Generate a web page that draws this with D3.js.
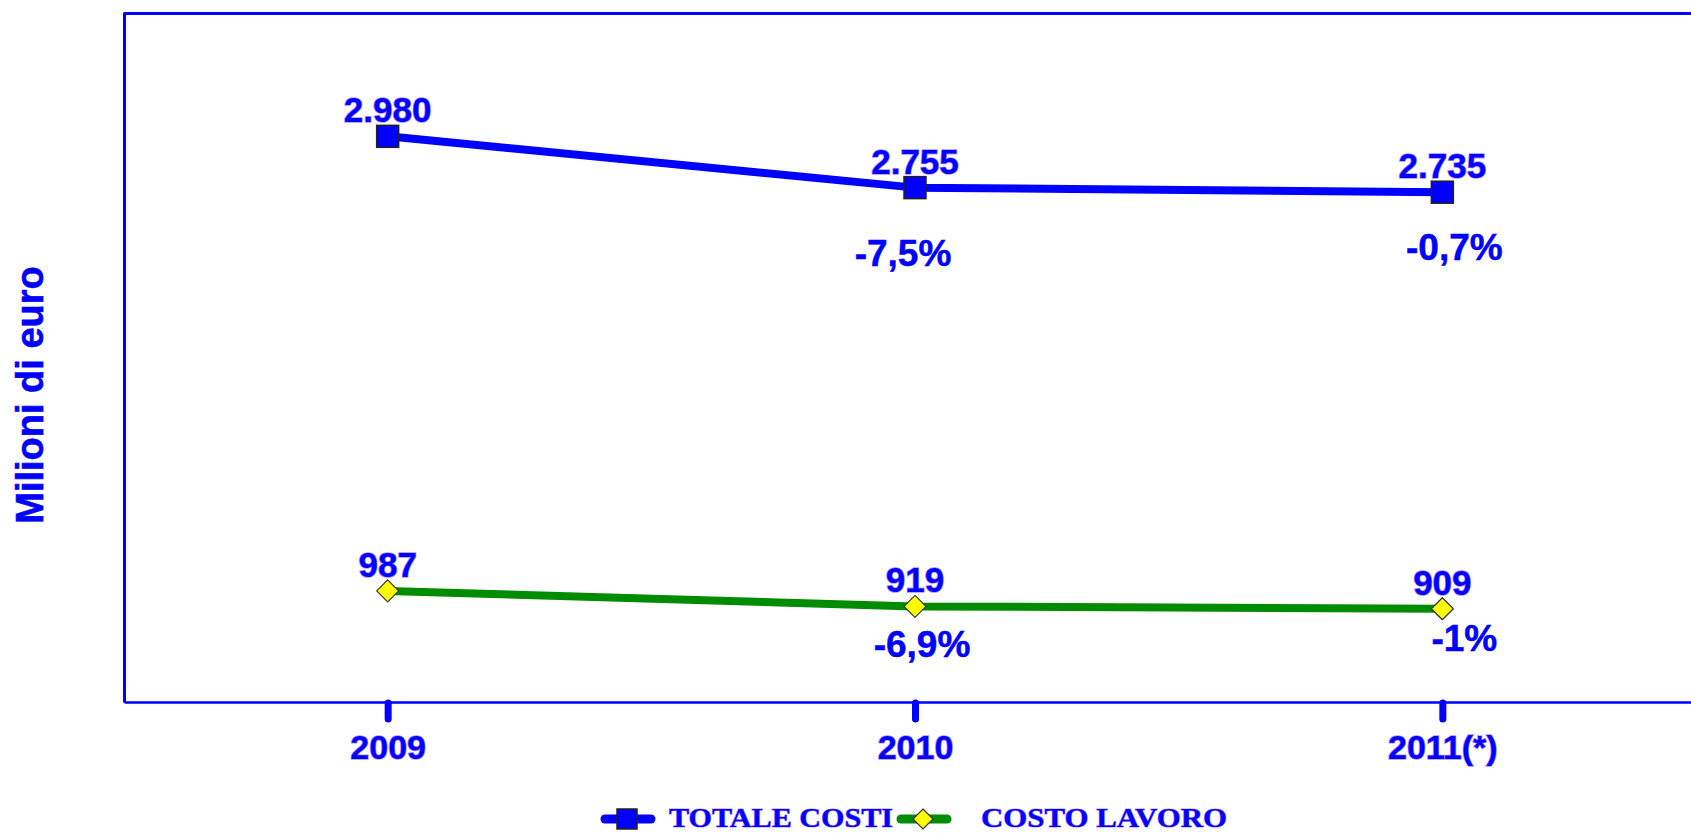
<!DOCTYPE html>
<html>
<head>
<meta charset="utf-8">
<script src="https://cdn.jsdelivr.net/npm/d3@7/dist/d3.min.js"></script>
<style>
  html, body { margin: 0; padding: 0; background: #fff; overflow: hidden; }
  svg { display: block; }
</style>
</head>
<body>
<svg id="chart" width="1691" height="833"></svg>
<script>
// ---- data ----
const years = ["2009", "2010", "2011(*)"];
const totaleCosti = [2980, 2755, 2735];
const costoLavoro = [987, 919, 909];
const totaleLabels = ["2.980", "2.755", "2.735"];
const lavoroLabels = ["987", "919", "909"];
const totalePct = [null, "-7,5%", "-0,7%"];
const lavoroPct = [null, "-6,9%", "-1%"];
const seriesNames = ["TOTALE COSTI", "COSTO LAVORO"];
const yAxisTitle = "Milioni di euro";

// ---- label placement (style, not data) ----
const totalePctOffset = [null, [-12, 78], [12, 68]];
const lavoroPctOffset = [null, [7, 51], [22, 42]];

const BLUE = "#0000ff";
const GREEN = "#008c00";
const YELLOW = "#ffff00";
const FUZZ = "rgba(130,70,255,0.6)";
const SANS = "'Liberation Sans', Arial, sans-serif";
const SERIF = "'Liberation Serif', 'Times New Roman', serif";

const svg = d3.select("#chart");

const x = d3.scalePoint().domain(years).range([124, 1706]).padding(0.5);
const y = d3.scaleLinear().domain([500, 3525]).range([702, 12]);

// frame: top line and left axis line
svg.append("line").attr("x1", 124).attr("x2", 1700).attr("y1", 13.5).attr("y2", 13.5)
  .attr("stroke", BLUE).attr("stroke-width", 3);
const yAxis = svg.append("g").attr("transform", "translate(124,0)")
  .call(d3.axisLeft(y).tickValues([]).tickSizeOuter(0));
yAxis.select(".domain").attr("stroke", BLUE).attr("stroke-width", 3);

// bottom axis
const xAxis = svg.append("g").attr("transform", "translate(0,702)")
  .call(d3.axisBottom(x).tickSizeInner(17).tickSizeOuter(0).tickPadding(16));
xAxis.select(".domain").attr("stroke", BLUE).attr("stroke-width", 2.5);
xAxis.selectAll(".tick line").attr("stroke", BLUE).attr("stroke-width", 7)
  .attr("stroke-linecap", "round").attr("y1", 1);
xAxis.selectAll(".tick text")
  .attr("fill", BLUE).attr("font-family", SANS).attr("font-weight", "bold")
  .attr("font-size", 34).attr("dy", "0.71em")
  .attr("stroke", FUZZ).attr("stroke-width", 1.6)
  .attr("paint-order", "stroke");

// y axis title
svg.append("text")
  .attr("transform", "translate(43,395) rotate(-90)")
  .attr("text-anchor", "middle")
  .attr("fill", BLUE).attr("font-family", SANS).attr("font-weight", "bold")
  .attr("font-size", 38)
  .attr("stroke", BLUE).attr("stroke-width", 0.6)
  .text(yAxisTitle);

const line = d3.line().x((d, i) => x(years[i])).y(d => y(d));

function drawSeries(values, color) {
  svg.append("path").datum(values)
    .attr("d", line).attr("fill", "none")
    .attr("stroke", color).attr("stroke-width", 8)
    .attr("stroke-linejoin", "round");
}
drawSeries(totaleCosti, BLUE);
drawSeries(costoLavoro, GREEN);

// markers
svg.selectAll(".sq").data(totaleCosti).enter().append("rect")
  .attr("x", (d, i) => x(years[i]) - 11).attr("y", d => y(d) - 11)
  .attr("width", 22).attr("height", 22)
  .attr("fill", BLUE).attr("stroke", "#222").attr("stroke-width", 1.5);

svg.selectAll(".dm").data(costoLavoro).enter().append("path")
  .attr("d", "M0,-11L11,0L0,11L-11,0Z")
  .attr("transform", (d, i) => `translate(${x(years[i])},${y(d)})`)
  .attr("fill", YELLOW).attr("stroke", "#333").attr("stroke-width", 1.2)
  .attr("stroke-linejoin", "round");

// value labels
function valueLabels(values, labels) {
  svg.selectAll(null).data(values).enter().append("text")
    .attr("x", (d, i) => x(years[i])).attr("y", d => y(d) - 14)
    .attr("text-anchor", "middle")
    .attr("fill", BLUE).attr("font-family", SANS).attr("font-weight", "bold")
    .attr("font-size", 35)
    .attr("stroke", FUZZ).attr("stroke-width", 1.6)
    .attr("paint-order", "stroke")
    .text((d, i) => labels[i]);
}
valueLabels(totaleCosti, totaleLabels);
valueLabels(costoLavoro, lavoroLabels);

// percentage labels
function pctLabels(values, labels, offsets) {
  values.forEach((v, i) => {
    if (!labels[i]) return;
    svg.append("text")
      .attr("x", x(years[i]) + offsets[i][0]).attr("y", y(v) + offsets[i][1])
      .attr("text-anchor", "middle")
      .attr("fill", BLUE).attr("font-family", SANS).attr("font-weight", "bold")
      .attr("font-size", 37)
      .attr("stroke", BLUE).attr("stroke-width", 0.5)
      .text(labels[i]);
  });
}
pctLabels(totaleCosti, totalePct, totalePctOffset);
pctLabels(costoLavoro, lavoroPct, lavoroPctOffset);

// legend
const legend = svg.append("g").attr("transform", "translate(0,819)");
const items = [
  { name: seriesNames[0], color: BLUE, marker: "sq", x0: 601, tx: 669, w: 224 },
  { name: seriesNames[1], color: GREEN, marker: "dm", x0: 897, tx: 981, w: 246 }
];
items.forEach(it => {
  legend.append("line").attr("x1", it.x0 + 4).attr("x2", it.x0 + 50)
    .attr("y1", 0).attr("y2", 0)
    .attr("stroke", it.color).attr("stroke-width", 9).attr("stroke-linecap", "round");
  const cx = it.x0 + 26;
  if (it.marker === "sq") {
    legend.append("rect").attr("x", cx - 10).attr("y", -10).attr("width", 20).attr("height", 20)
      .attr("fill", BLUE).attr("stroke", "#222").attr("stroke-width", 1.5);
  } else {
    legend.append("path").attr("d", "M0,-10L10,0L0,10L-10,0Z")
      .attr("transform", `translate(${cx},0)`)
      .attr("fill", YELLOW).attr("stroke", "#333").attr("stroke-width", 1.2);
  }
  legend.append("text").attr("x", it.tx).attr("y", 8)
    .attr("fill", BLUE).attr("font-family", SERIF).attr("font-weight", "bold")
    .attr("font-size", 27)
    .attr("textLength", it.w).attr("lengthAdjust", "spacingAndGlyphs")
    .attr("stroke", FUZZ).attr("stroke-width", 1.2)
    .attr("paint-order", "stroke")
    .text(it.name);
});
</script>
</body>
</html>
